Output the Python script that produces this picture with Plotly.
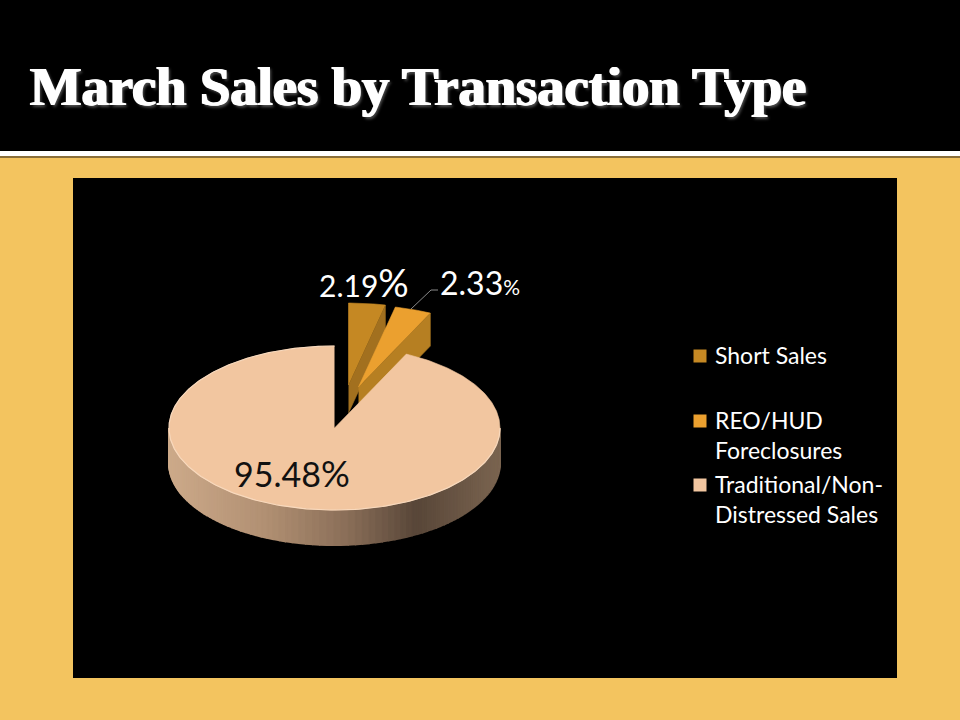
import numpy as np
import plotly.graph_objects as go

# Data
categories = ["Short Sales", "REO/HUD Foreclosures", "Traditional/Non-Distressed Sales"]
legend_labels = ["Short Sales", "REO/HUD<br>Foreclosures", "Traditional/Non-<br>Distressed Sales"]
shares = [2.19, 2.33, 95.48]

# Colours
top_colors = ["#C58823", "#EBA02F", "#F2C6A0"]
cut_colors = ["#A2701F", "#B67F22", "#F2C6A0"]
band_stops = [(0.0, (205, 170, 138)), (0.3, (176, 143, 114)), (0.55, (136, 109, 87)),
              (0.75, (88, 70, 56)), (1.0, (122, 100, 80))]

# Pie geometry, in slide pixels
cx, cy, rx, ry = 334.5, 428, 165.5, 82
depths = [28, 33, 35]
offsets = [(14, -43), (24, -41), (0, 0)]
view_stretch = 1.65  # the tilted view widens the slices at the back


def ellipse(t, ox=0, oy=0, dy=0):
    a = np.arctan2(view_stretch * np.sin(t), np.cos(t))
    return cx + ox + rx * np.sin(a), cy + oy + dy + -ry * np.cos(a)


def poly(fig, x, y, color, width=0.6):
    fig.add_trace(go.Scatter(x=list(x), y=list(y), mode="lines", fill="toself",
                             fillcolor=color, line=dict(color=color, width=width),
                             hoverinfo="skip", showlegend=False))


def band_color(f):
    for (f0, c0), (f1, c1) in zip(band_stops, band_stops[1:]):
        if f <= f1:
            w = (f - f0) / (f1 - f0)
            c = [round(p + (q - p) * w) for p, q in zip(c0, c1)]
            return "rgb(%d,%d,%d)" % tuple(c)
    return "rgb(%d,%d,%d)" % band_stops[-1][1]


edges = np.radians(np.cumsum([0] + shares) * 3.6)
fig = go.Figure()

# Two pulled out slices at the back
for i in range(2):
    ox, oy = offsets[i]
    d = depths[i]
    t_end = np.array([edges[i + 1]])
    ex, ey = ellipse(t_end, ox, oy)
    ax, ay = cx + ox, cy + oy
    poly(fig, [ax, ex[0], ex[0], ax], [ay, ey[0], ey[0] + d, ay + d], cut_colors[i])
    t = np.linspace(edges[i], edges[i + 1], 30)
    x, y = ellipse(t, ox, oy)
    poly(fig, [ax, *x], [ay, *y], top_colors[i])

# Main slice: shaded rim, then the top face
t = np.linspace(edges[2], edges[3], 400)
x, y = ellipse(t)
front = np.linspace(np.pi / 2, 3 * np.pi / 2, 121)
# painted from the right so that each strip covers the seam of the one before
for j in range(119, -1, -1):
    seg = np.linspace(front[j], front[j + 1], 4)
    sx, sy = ellipse(seg)
    bx, by = ellipse(seg[::-1], dy=depths[2])
    f = (sx.mean() - (cx - rx)) / (2 * rx)
    poly(fig, [*sx, *bx], [*sy, *by], band_color(f), width=2)

poly(fig, [cx, *x], [cy, *y], top_colors[2])
rim = t > np.pi / 2
fig.add_trace(go.Scatter(x=x[rim], y=y[rim], mode="lines", line=dict(color="#F8D9BD", width=1.2),
                         hoverinfo="skip", showlegend=False))

# Leader line for the REO label
fig.add_trace(go.Scatter(x=[411, 431, 438], y=[309, 290, 290], mode="lines",
                         line=dict(color="#8A8A8A", width=1), hoverinfo="skip", showlegend=False))

# Legend keys
fig.add_trace(go.Scatter(x=[700, 700, 700], y=[356, 421, 485], mode="markers",
                         marker=dict(symbol="square", size=13, color=top_colors,
                                     line=dict(width=0)),
                         hoverinfo="skip", showlegend=False))

annotations = []


def note(x, y, text, size, color="white", font="Lato", anchor="left", yanchor="middle", **kw):
    annotations.append(dict(x=x, y=y, xref="x", yref="y", text=text, showarrow=False,
                            xanchor=anchor, yanchor=yanchor, align="left",
                            font=dict(family=font, size=size, color=color), **kw))


note(28, 86, "March Sales by Transaction Type", 54.5, font="Liberation Serif")
annotations[-1]["font"].update(
    weight="bold",
    shadow="1px 0 0 white, -1px 0 0 white, 2px 2px 3px #555555",
)

note(317, 282, '%.2f<span style="font-size:38px">%%</span>' % shares[0], 30)
note(438, 282, '%.2f<span style="font-size:21px">%%</span>' % shares[1], 32)
note(232, 473, '%.2f<span style="font-size:36px">%%</span>' % shares[2], 34, color="#111111")

for label, y in zip(legend_labels, [356, 421, 485]):
    note(713, y - 17, label, 23, yanchor="top")

shapes = [
    dict(type="rect", xref="paper", yref="paper", x0=0, x1=1, y0=0, y1=1,
         fillcolor="#F3C45F", line_width=0, layer="below"),
    dict(type="rect", xref="x", yref="y", x0=0, x1=960, y0=0, y1=151,
         fillcolor="black", line_width=0, layer="below"),
    dict(type="rect", xref="x", yref="y", x0=0, x1=960, y0=151, y1=156,
         fillcolor="white", line_width=0, layer="below"),
    dict(type="rect", xref="x", yref="y", x0=0, x1=960, y0=156, y1=158,
         fillcolor="#8A6F3A", line_width=0, layer="below"),
    dict(type="rect", xref="x", yref="y", x0=73, x1=897, y0=178, y1=678,
         fillcolor="black", line_width=0, layer="below"),
]

fig.update_layout(
    width=960, height=720,
    margin=dict(l=0, r=0, t=0, b=0),
    paper_bgcolor="#F3C45F", plot_bgcolor="#F3C45F",
    xaxis=dict(range=[0, 960], visible=False, fixedrange=True),
    yaxis=dict(range=[720, 0], visible=False, fixedrange=True),
    shapes=shapes, annotations=annotations,
    showlegend=False,
)

fig.write_html("out.html", config=dict(displayModeBar=False),
               post_script="document.body.style.margin='0';")
